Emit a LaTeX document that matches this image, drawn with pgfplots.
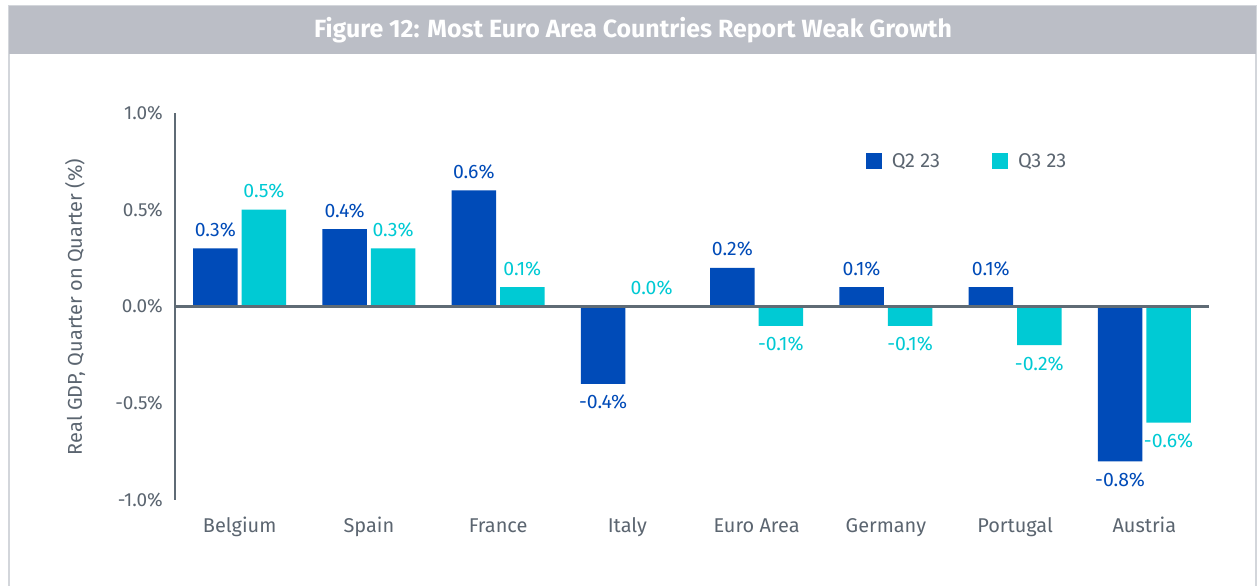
\documentclass[border=0pt]{standalone}
\usepackage{fontspec}
\setmainfont{Fira Sans}
\usepackage{pgfplots}
\pgfplotsset{compat=1.18}
\definecolor{q2}{HTML}{004BB8}
\definecolor{q3}{HTML}{00CAD4}
\definecolor{axisgray}{HTML}{5F6B75}
\definecolor{textgray}{HTML}{5B6570}
\definecolor{titlegray}{HTML}{BBBEC6}
\definecolor{bordergray}{HTML}{D3D6DB}
\newcommand\fs{\fontsize{20}{23}\selectfont}
\newcommand\fsb{\fontsize{19.5}{23}\selectfont}
\newcommand\fst{\fontsize{19}{22}\selectfont}
\begin{document}
\begin{tikzpicture}[x=1bp,y=1bp]
\path[use as bounding box] (0,0) rectangle (1257,586);
\fill[white] (0,0) rectangle (1257,586);
\draw[bordergray, line width=1.2bp] (9,-5) -- (9,580) -- (1256,580) -- (1256,-5);
\fill[titlegray] (9,532) rectangle (1256,580);
\node[white, font=\bfseries\fontsize{25}{28}\selectfont] at (633,556) {Figure 12: Most Euro Area Countries Report Weak Growth};
\begin{axis}[
  at={(175bp,86bp)}, anchor=south west,
  scale only axis, width=1034bp, height=387bp,
  xmin=-0.5, xmax=7.5, ymin=-1, ymax=1,
  ybar=4bp, bar width=44.5bp,
  axis lines*=left,
  x axis line style={draw=none},
  y axis line style={draw=axisgray, line width=2.5bp},
  major tick length=0pt, tick style={draw=none},
  xtick={0,1,2,3,4,5,6,7},
  xticklabels={Belgium,Spain,France,Italy,Euro Area,Germany,Portugal,Austria},
  ytick={-1,-0.5,0,0.5,1},
  yticklabels={-1.0\%,-0.5\%,0.0\%,0.5\%,1.0\%},
  xticklabel style={anchor=base, yshift=-33bp, font=\fs, text=textgray},
  yticklabel style={anchor=east, xshift=-12bp, inner sep=0pt, font=\fst, text=textgray},
  ylabel={Real GDP, Quarter on Quarter (\%)},
  ylabel style={at={(axis description cs:-0.0967,0.4987)}, anchor=center, font=\fs, text=textgray},
  /pgf/number format/assume math mode=true,
  nodes near coords={\pgfmathprintnumber[fixed, fixed zerofill, precision=1]{\pgfplotspointmeta}\%},
  nodes near coords style={font=\fsb, inner xsep=0pt, inner ysep=11bp},
  clip=false,
  legend style={at={(axis description cs:0.668,0.876)}, anchor=west, draw=none, fill=none, inner sep=0pt, font=\fs, text=textgray, /tikz/every even column/.append style={column sep=50bp}},
  legend columns=2,
]
\addplot[fill=q2, draw=none, every node near coord/.append style={text=q2},
  legend image code/.code={\fill[q2] (0bp,-8bp) rectangle (16bp,8bp); \path (24bp,0bp);}]
  coordinates {(0,0.3) (1,0.4) (2,0.6) (3,-0.4) (4,0.2) (5,0.1) (6,0.1) (7,-0.8)};
\addlegendentry{Q2 23}
\addplot[fill=q3, draw=none, every node near coord/.append style={text=q3},
  legend image code/.code={\fill[q3] (0bp,-8bp) rectangle (16bp,8bp); \path (24bp,0bp);}]
  coordinates {(0,0.5) (1,0.3) (2,0.1) (3,0.0) (4,-0.1) (5,-0.1) (6,-0.2) (7,-0.6)};
\addlegendentry{Q3 23}
\draw[axisgray, line width=2.5bp] (axis cs:-0.5,0) -- (axis cs:7.5,0);
\end{axis}
\end{tikzpicture}
\end{document}
